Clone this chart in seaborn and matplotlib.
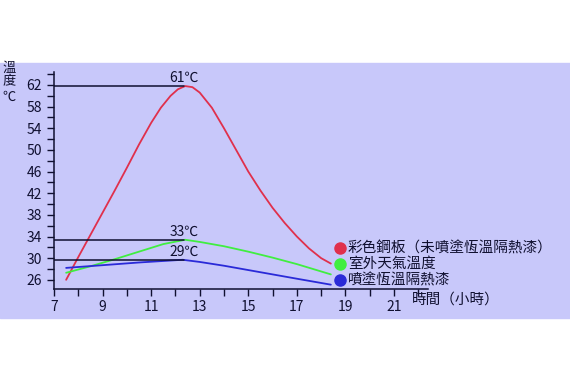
import pandas as pd
import matplotlib
matplotlib.use('Agg')
import matplotlib.pyplot as plt
from matplotlib.patches import Rectangle
from matplotlib.lines import Line2D
from matplotlib.ticker import MultipleLocator
import seaborn as sns

# --- data ---
red_x = [7.5, 8.0, 8.5, 9.0, 9.5, 10.0, 10.5, 11.0, 11.4, 11.8, 12.1, 12.4, 12.7, 13.0, 13.5, 14.0, 14.5, 15.0, 15.5, 16.0, 16.5, 17.0, 17.5, 18.0, 18.4]
red_y = [26.0, 30.2, 34.3, 38.4, 42.5, 46.7, 51.0, 55.0, 57.8, 60.0, 61.2, 61.8, 61.6, 60.6, 57.8, 54.0, 50.0, 46.0, 42.5, 39.3, 36.5, 34.0, 31.8, 30.0, 29.0]
green_x = [7.5, 8.5, 9.5, 10.5, 11.5, 12.4, 13.0, 14.0, 15.0, 16.0, 17.0, 18.4]
green_y = [27.3, 28.5, 29.8, 31.2, 32.6, 33.4, 33.0, 32.2, 31.2, 30.1, 28.9, 27.0]
blue_x = [7.5, 9.0, 10.5, 12.3, 13.0, 14.0, 15.0, 16.0, 17.0, 18.4]
blue_y = [28.2, 28.7, 29.2, 29.7, 29.3, 28.6, 27.8, 27.0, 26.2, 25.1]

series_names = ['彩色鋼板（未噴塗恆溫隔熱漆）', '室外天氣溫度', '噴塗恆溫隔熱漆']
series_colors = ['#e0304c', '#40ee40', '#2a2ad8']
peak_vals = [61.8, 33.4, 29.7]
peak_labels = ['61℃', '33℃', '29℃']
peak_x = 12.35

x_ticks = [7, 9, 11, 13, 15, 17, 19, 21]
y_ticks = [26, 30, 34, 38, 42, 46, 50, 54, 58, 62]

df = pd.concat([
    pd.DataFrame({'時間': red_x, '溫度': red_y, '系列': series_names[0]}),
    pd.DataFrame({'時間': green_x, '溫度': green_y, '系列': series_names[1]}),
    pd.DataFrame({'時間': blue_x, '溫度': blue_y, '系列': series_names[2]}),
])

sns.set_style('white')
plt.rcParams['font.family'] = ['Noto Sans CJK TC', 'DejaVu Sans']
ink = '#101030'
bg = '#c8c8fa'

fig = plt.figure(figsize=(5.7, 3.8), dpi=100)
fig.patches.append(Rectangle((0, 1 - 318 / 380), 1, (318 - 63) / 380,
                             transform=fig.transFigure, color=bg, zorder=-5))
ax = fig.add_axes([54 / 570, 1 - 289 / 380, 374 / 570, 217 / 380])
ax.set_facecolor('none')

sns.lineplot(data=df, x='時間', y='溫度', hue='系列', palette=series_colors,
             sort=False, estimator=None, linewidth=1.3, legend=False, ax=ax)

# reference lines to the peaks, with their labels
label_y = [62.0, 33.5, 29.9]
for v, lab, ly in zip(peak_vals, peak_labels, label_y):
    ax.plot([7, peak_x], [v, v], color=ink, linewidth=1.1)
    ax.text(peak_x, ly, lab, ha='center', va='bottom', fontsize=10, color=ink)

ax.set_xlim(7, 22.4)
ax.set_ylim(24.3, 64.4)
ax.set_xticks(x_ticks)
ax.xaxis.set_minor_locator(MultipleLocator(1))
ax.set_yticks(y_ticks)
ax.yaxis.set_minor_locator(MultipleLocator(2))
ax.tick_params(axis='both', which='both', direction='out', colors=ink,
               labelsize=10, length=5, width=1, bottom=True, left=True)
ax.tick_params(axis='x', pad=3)
ax.set_xlabel('')
ax.set_ylabel('')
for s in ['top', 'right']:
    ax.spines[s].set_visible(False)
for s in ['left', 'bottom']:
    ax.spines[s].set_color(ink)
    ax.spines[s].set_linewidth(1.1)

# legend rows: dot + label, placed like the original
for name, c, yy in zip(series_names, series_colors, [248, 264, 280]):
    fy = 1 - yy / 380
    fig.add_artist(Line2D([340 / 570], [fy], marker='o', markersize=8,
                          color=c, linestyle='none', transform=fig.transFigure))
    fig.text(348 / 570, fy, name, ha='left', va='center', fontsize=10.5,
             color=ink)

fig.text(412 / 570, 1 - 300 / 380, '時間（小時）', ha='left', va='center',
         fontsize=10.5, color=ink)
for ch, yy in zip(['溫', '度', '℃'], [68, 82, 97]):
    fig.text(9 / 570, 1 - yy / 380, ch, ha='center', va='center',
             fontsize=9.5, color=ink)

fig.savefig('out.png', dpi=100)
